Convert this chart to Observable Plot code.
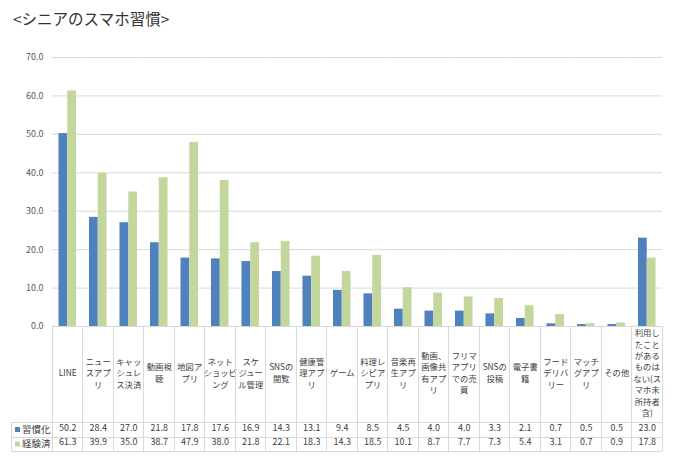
<!DOCTYPE html>
<html>
<head>
<meta charset="utf-8">
<script src="https://cdn.jsdelivr.net/npm/d3@7"></script>
<script src="https://cdn.jsdelivr.net/npm/@observablehq/plot@0.6"></script>
<style>
  body { margin: 0; background: #fff; font-family: "Noto Sans CJK JP", "Noto Sans", sans-serif; }
  #title { height: 40px; box-sizing: border-box; padding: 7px 0 0 13px; font-size: 15.5px; color: #333; }
  svg { display: block; }
</style>
</head>
<body>
<div id="title">&lt;シニアのスマホ習慣&gt;</div>
<div id="chart"></div>
<script>
const categories = ["LINE","ニュースアプリ","キャッシュレス決済","動画視聴","地図アプリ","ネットショッピング","スケジュール管理","SNSの閲覧","健康管理アプリ","ゲーム","料理レシピアプリ","音楽再生アプリ","動画、画像共有アプリ","フリマアプリでの売買","SNSの投稿","電子書籍","フードデリバリー","マッチグアプリ","その他","利用したことがあるものはない(スマホ未所持者含)"];
const categoryLabels = ["LINE","ニュー\nスアプ\nリ","キャッ\nシュレ\nス決済","動画視\n聴","地図ア\nプリ","ネット\nショッピ\nング","スケ\nジュー\nル管理","SNSの\n閲覧","健康管\n理アプ\nリ","ゲーム","料理レ\nシピア\nプリ","音楽再\n生アプ\nリ","動画、\n画像共\n有アプ\nリ","フリマ\nアプリ\nでの売\n買","SNSの\n投稿","電子書\n籍","フード\nデリバ\nリー","マッチ\nグアプ\nリ","その他","利用し\nたこと\nがある\nものは\nない(ス\nマホ未\n所持者\n含)"];
const series = ["習慣化","経験済"];
const habitual = [50.2,28.4,27.0,21.8,17.8,17.6,16.9,14.3,13.1,9.4,8.5,4.5,4.0,4.0,3.3,2.1,0.7,0.5,0.5,23.0];
const experienced = [61.3,39.9,35.0,38.7,47.9,38.0,21.8,22.1,18.3,14.3,18.5,10.1,8.7,7.7,7.3,5.4,3.1,0.7,0.9,17.8];
const seriesColors = ["#4F81BD","#C3D69B"];

const rows = [];
categories.forEach((c, i) => {
  rows.push({category: c, series: series[0], value: habitual[i]});
  rows.push({category: c, series: series[1], value: experienced[i]});
});
const cats = categories.map((c, i) => ({category: c, label: categoryLabels[i], h: habitual[i], e: experienced[i]}));

const W = 680, H = 426, mL = 52, mR = 18, mT = 17, mB = 140;
const fmt = d3.format(".1f");

const plot = Plot.plot({
  width: W, height: H,
  marginLeft: mL, marginRight: mR, marginTop: mT, marginBottom: mB,
  style: {fontFamily: "'Noto Sans CJK JP', sans-serif", color: "#404040", background: "#fff"},
  fx: {domain: categories, padding: 0, axis: null, round: false},
  x: {domain: series, paddingInner: 0, paddingOuter: 0.74, axis: null, round: false},
  y: {domain: [0, 70], label: null},
  color: {domain: series, range: seriesColors},
  marks: [
    Plot.gridY(d3.range(10, 71, 10), {stroke: "#d9d9d9", strokeOpacity: 1, strokeWidth: 1}),
    Plot.ruleY([0], {stroke: "#d9d9d9", strokeWidth: 1}),
    Plot.axisY({ticks: d3.range(0, 71, 10), tickFormat: fmt, tickSize: 0, tickPadding: 9, fontSize: 9, fill: "#595959", label: null}),
    Plot.barY(rows, {fx: "category", x: "series", y: "value", fill: "series"}),
    Plot.text(cats, {fx: "category", text: "label", frameAnchor: "bottom", dy: 46, lineAnchor: "middle", fontSize: 8.3, lineHeight: 1.38, fill: "#404040", ariaLabel: "category-labels"}),
    Plot.text(cats, {fx: "category", text: d => fmt(d.h), frameAnchor: "bottom", dy: 104, fontSize: 9, fill: "#404040"}),
    Plot.text(cats, {fx: "category", text: d => fmt(d.e), frameAnchor: "bottom", dy: 118, fontSize: 9, fill: "#404040"})
  ]
});
document.getElementById("chart").appendChild(plot);

const svg = d3.select(plot);
svg.selectAll('g[aria-label="category-labels"]').attr("letter-spacing", "-0.6px");

// table grid lines and legend cells, placed with the plot's own fx scale
const fx = plot.scale("fx");
const bw = fx.bandwidth;
const y0 = H - mB;
const rowTop = y0 + 96, rowMid = y0 + 111, rowBot = y0 + 125;
const g = svg.append("g").attr("stroke", "#d9d9d9").attr("stroke-width", 1).attr("shape-rendering", "crispEdges");
const right = fx.apply(categories[categories.length - 1]) + bw;
categories.forEach(c => {
  const x = fx.apply(c);
  g.append("line").attr("x1", x).attr("x2", x).attr("y1", y0).attr("y2", rowBot);
});
g.append("line").attr("x1", right).attr("x2", right).attr("y1", y0).attr("y2", rowBot);
g.append("line").attr("x1", 11).attr("x2", 11).attr("y1", rowTop).attr("y2", rowBot);
[rowTop, rowMid, rowBot].forEach(yy => g.append("line").attr("x1", 11).attr("x2", right).attr("y1", yy).attr("y2", yy));

const lg = svg.append("g").attr("text-anchor", "start");
series.forEach((s, i) => {
  const yy = i === 0 ? (rowTop + rowMid) / 2 : (rowMid + rowBot) / 2;
  lg.append("rect").attr("x", 15).attr("y", yy - 2.5).attr("width", 5).attr("height", 5).attr("fill", seriesColors[i]);
  lg.append("text").attr("x", 22).attr("y", yy).attr("dy", "0.35em").attr("font-size", 9.5).attr("fill", "#404040").text(s);
});
</script>
</body>
</html>
